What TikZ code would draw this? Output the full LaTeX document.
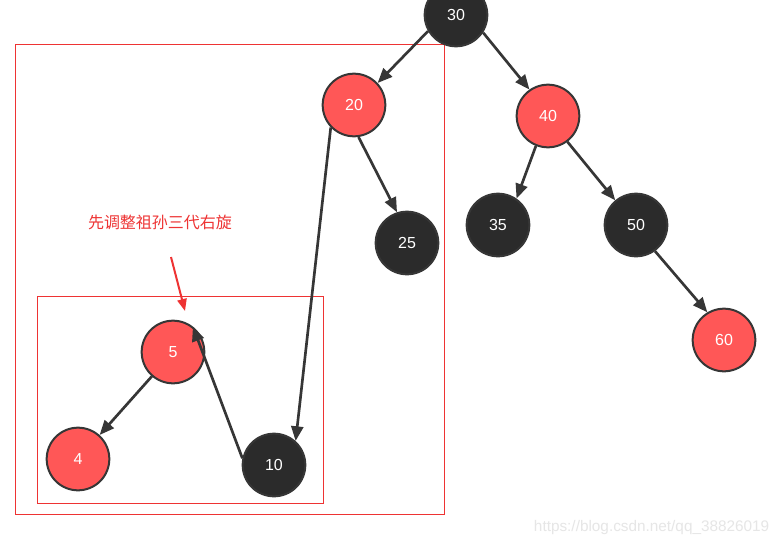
\documentclass[tikz,border=0pt]{standalone}
\usepackage{fontspec}
\setmainfont{Liberation Sans}
\newfontfamily\cjk{Noto Sans CJK SC}
\usetikzlibrary{arrows.meta}
\definecolor{rbred}{HTML}{FF5757}
\definecolor{rbblack}{HTML}{2B2B2B}
\definecolor{rbline}{HTML}{363636}
\definecolor{boxred}{HTML}{EE3333}
\definecolor{wm}{HTML}{E6E6E6}
\tikzset{
  rb/.style={circle, minimum size=47pt, inner sep=0pt, draw=rbline, line width=1.5pt, text=white, font=\fontsize{12}{12}\selectfont},
  rednode/.style={rb, fill=rbred},
  blacknode/.style={rb, fill=rbblack},
  edge/.style={draw=rbline, line width=2pt, -{Triangle[length=11pt,width=9pt]}},
  frame/.style={draw=boxred, line width=0.75pt},
}
\begin{document}
\begin{tikzpicture}[x=0.75pt,y=-0.75pt]
\useasboundingbox (0,0) rectangle (776,536);
\fill[white] (0,0) rectangle (776,536);
% frames
\draw[frame] (15,44) rectangle (444,514);
\draw[frame] (37,296) rectangle (323,503);
% nodes
\node[blacknode] (n30) at (456,15) {30};
\node[rednode] (n20) at (354,105) {20};
\node[rednode] (n40) at (548,116) {40};
\node[blacknode] (n25) at (407,243) {25};
\node[blacknode] (n35) at (498,225) {35};
\node[blacknode] (n50) at (636,225) {50};
\node[rednode] (n60) at (724,340) {60};
\node[rednode] (n5) at (173,352) {5};
\node[rednode] (n4) at (78,459) {4};
\node[blacknode] (n10) at (274,465) {10};
% edges
\draw[edge] (n30.-150) -- (n20.43);
\draw[edge] (n30.-33) -- (n40.125);
\draw[edge] (n20.-82) -- (n25.108);
\draw[edge] (n40.-112) -- (n35.55);
\draw[edge] (n40.-53) -- (n50.130);
\draw[edge] (n50.-54) -- (n60.121);
\draw[edge] (n5.-131) -- (n4.48);
\draw[edge] (n20.-136) -- (n10.48);
\draw[edge] (n10.168) -- (n5.52);
% annotation
\node[text=boxred, font=\cjk\fontsize{12}{12}\selectfont] (lbl) at (160,222) {先调整祖孙三代右旋};
\coordinate (ta) at (171,257);
\coordinate (tb) at (185,311);
\draw[boxred, line width=1.5pt, -{Triangle[length=9pt,width=7pt]}] (ta) -- (tb);
% watermark
\node[text=wm, font=\fontsize{11.5}{12}\selectfont, anchor=east] (wmk) at (774,528) {https://blog.csdn.net/qq\_38826019};
\end{tikzpicture}
\end{document}
